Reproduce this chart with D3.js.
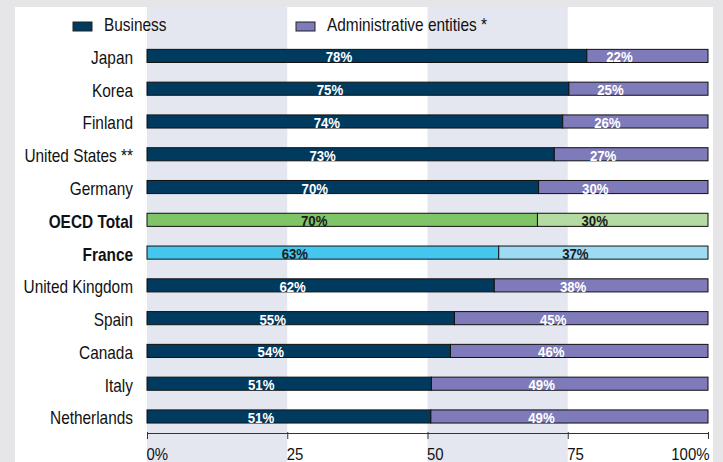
<!DOCTYPE html>
<html>
<head>
<meta charset="utf-8">
<script src="https://cdn.jsdelivr.net/npm/d3@7"></script>
<style>
  body { margin: 0; background: #e6e6e8; }
  svg text { font-family: "Liberation Sans", Arial, sans-serif; }
</style>
</head>
<body>
<div id="chart"></div>
<script>
// categories, top to bottom
const countries = ['Japan', 'Korea', 'Finland', 'United States **', 'Germany', 'OECD Total',
  'France', 'United Kingdom', 'Spain', 'Canada', 'Italy', 'Netherlands'];
// share of business (%), the rest is administrative entities
const business = [78.4, 75.2, 74.1, 72.6, 69.8, 69.6, 62.7, 61.9, 54.8, 54.1, 50.7, 50.6];
const seriesNames = ['Business', 'Administrative entities *'];
const xTicks = [0, 25, 50, 75, 100];
const boldRows = ['OECD Total', 'France'];

const colBiz = { def: '#003a5f', 'OECD Total': '#80c468', 'France': '#45c6ee' };
const colAdm = { def: '#7f7ab9', 'OECD Total': '#b4dba1', 'France': '#9cdbf3' };

const W = 723, H = 462;
const SX = 0.88; // text in the source is a little squeezed sideways

const svg = d3.select('#chart').append('svg')
  .attr('width', W).attr('height', H);

// white panel
svg.append('rect').attr('x', 15).attr('y', 7).attr('width', 698).attr('height', H - 7).attr('fill', '#fff');

const x = d3.scaleLinear().domain([0, 100]).range([147, 708]);
const y = d3.scaleBand().domain(countries).range([29.7, 442.7]).paddingInner(0.6).paddingOuter(0.6);

// alternating shaded columns
[[0, 25], [50, 75]].forEach(b => {
  svg.append('rect')
    .attr('x', x(b[0])).attr('y', 7)
    .attr('width', x(b[1]) - x(b[0])).attr('height', H - 7)
    .attr('fill', '#e4e7f0');
});

function squeezed(sel, fx, fy) {
  return sel.attr('transform', (d, i) => `translate(${fx(d, i)},${fy(d, i)}) scale(${SX},1)`);
}

// legend
const leg = [[73, seriesNames[0], colBiz.def], [296, seriesNames[1], colAdm.def]];
leg.forEach(l => {
  svg.append('rect').attr('x', l[0]).attr('y', 22).attr('width', 19).attr('height', 9)
    .attr('fill', l[2]).attr('stroke', '#222').attr('stroke-width', 1);
  squeezed(svg.append('text'), () => l[0] + 31, () => 31)
    .style('font-size', '17.5px').attr('fill', '#111').text(l[1]);
});

const rows = countries.map((c, i) => ({ c, b: business[i], a: 100 - business[i] }));

const g = svg.append('g');
const bh = y.bandwidth();

g.selectAll('.biz').data(rows).enter().append('rect')
  .attr('x', x(0)).attr('y', d => y(d.c))
  .attr('width', d => x(d.b) - x(0)).attr('height', bh)
  .attr('fill', d => colBiz[d.c] || colBiz.def)
  .attr('stroke', '#111').attr('stroke-width', 1);

g.selectAll('.adm').data(rows).enter().append('rect')
  .attr('x', d => x(d.b)).attr('y', d => y(d.c))
  .attr('width', d => x(100) - x(d.b)).attr('height', bh)
  .attr('fill', d => colAdm[d.c] || colAdm.def)
  .attr('stroke', '#111').attr('stroke-width', 1);

// value labels (sit a bit left of segment centre, as in the source)
const lab = (sel, f, v) => squeezed(sel.enter().append('text'),
    d => (x(f(d)[0]) + x(f(d)[1])) / 2 - 28,
    d => y(d.c) + bh / 2 + 6.5)
  .attr('text-anchor', 'middle')
  .style('font-weight', 'bold').style('font-size', '15px')
  .attr('fill', d => boldRows.includes(d.c) ? '#1a1a1a' : '#fff')
  .text(d => Math.round(v(d)) + '%');

lab(g.selectAll('.lb').data(rows), d => [0, d.b], d => d.b);
lab(g.selectAll('.la').data(rows), d => [d.b, 100], d => d.a);

// category labels
squeezed(g.selectAll('.cat').data(countries).enter().append('text'),
    () => 133, d => y(d) + bh / 2 + 8)
  .attr('text-anchor', 'end')
  .style('font-size', '17.5px')
  .style('font-weight', d => boldRows.includes(d) ? 'bold' : 'normal')
  .attr('fill', '#111')
  .text(d => d);

// x axis
const ax = svg.append('g').attr('transform', 'translate(0,433)')
  .call(d3.axisBottom(x).tickValues(xTicks).tickSize(6).tickSizeOuter(0)
    .tickFormat(d => (d === 0 || d === 100) ? d + '%' : d));
ax.select('.domain').attr('stroke', '#333');
ax.selectAll('.tick line').attr('stroke', '#333').attr('y1', -1);
ax.selectAll('.tick text')
  .attr('y', null).attr('dy', null)
  .attr('transform', d => `translate(${d === 100 ? 1 : -1},27) scale(${SX},1)`)
  .style('font-size', '17px').style('font-family', '"Liberation Sans", Arial, sans-serif')
  .attr('fill', '#111')
  .attr('text-anchor', d => d === 100 ? 'end' : 'start');
</script>
</body>
</html>
